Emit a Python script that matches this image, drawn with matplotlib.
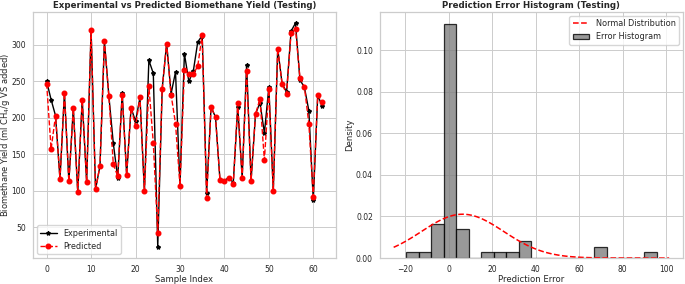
import numpy as np
import matplotlib
matplotlib.use('Agg')
import matplotlib.pyplot as plt
import seaborn as sns

# measured vs model output, testing set (ml CH4/g VS added)
experimental = [250, 225, 203, 116, 234, 113, 213, 98, 225, 112,
                320, 102, 134, 305, 230, 165, 117, 234, 122, 214,
                195, 228, 99, 279, 261.0, 23, 240, 302, 233, 263,
                107, 288, 250, 264, 304, 313, 97, 215, 201, 115,
                114, 118, 111, 215, 118, 273, 114, 205, 221, 179,
                242, 100, 295, 246, 236, 319, 330, 252, 242, 210,
                87, 231, 216]
predicted = [247, 157, 203, 116, 234, 113, 213, 98, 225, 112,
             320, 102, 134, 305, 230, 136, 120, 232, 122, 214,
             189, 228, 99, 244, 165.3, 42.6, 240, 302, 232, 192,
             107, 265, 259.5, 260, 271, 314, 90, 215, 201, 115,
             114, 118, 109, 220, 118, 264, 114, 205, 226, 142,
             239, 100, 295, 246, 233, 317, 322, 255, 243, 192,
             92, 231, 222]

sns.set_style('whitegrid')
plt.rcParams['font.family'] = ['DejaVu Sans']
plt.rcParams['grid.linewidth'] = 0.7
plt.rcParams['axes.linewidth'] = 0.9

exp = np.array(experimental)
pred = np.array(predicted)
idx = np.arange(len(exp))
errors = exp - pred

fig, (ax1, ax2) = plt.subplots(1, 2, figsize=(6.85, 2.84), dpi=100)
fig.subplots_adjust(left=0.048, right=0.997, top=0.958, bottom=0.0915, wspace=0.145)

ax1.plot(idx, exp, color='black', marker='*', markersize=3, linewidth=1.0, label='Experimental')
ax1.plot(idx, pred, color='red', marker='o', markersize=3.3, linewidth=1.0, linestyle='--', label='Predicted')
ax1.set_title('Experimental vs Predicted Biomethane Yield (Testing)', fontsize=6.2, fontweight='bold', pad=3)
ax1.set_xlabel('Sample Index', fontsize=6.1, labelpad=0.5)
ax1.set_ylabel('Biomethane Yield (ml CH$_4$/g VS added)', fontsize=6.0)
ax1.yaxis.set_label_coords(-0.07, 0.5)
ax1.legend(loc='lower left', fontsize=5.9)
ax1.tick_params(labelsize=5.5, pad=1.5)

counts, edges, bars = ax2.hist(errors, bins=20, density=True, color='gray', alpha=0.8,
                               edgecolor='black', linewidth=0.9, label='Error Histogram')
mu, sigma = errors.mean(), errors.std()
xs = np.linspace(*ax2.get_xlim(), 100)
pdf = np.exp(-0.5 * ((xs - mu) / sigma) ** 2) / (sigma * np.sqrt(2 * np.pi))
line, = ax2.plot(xs, pdf, 'r--', linewidth=1.1, label='Normal Distribution')
ax2.set_title('Prediction Error Histogram (Testing)', fontsize=6.2, fontweight='bold', pad=3)
ax2.set_xlabel('Prediction Error', fontsize=6.1, labelpad=0.5)
ax2.set_ylabel('Density', fontsize=6.1, labelpad=1.5)
ax2.legend(handles=[line, bars[0]], loc='upper right', fontsize=5.9)
ax2.tick_params(labelsize=5.5, pad=1.5)

plt.savefig('out.png', dpi=100)
plt.close()
